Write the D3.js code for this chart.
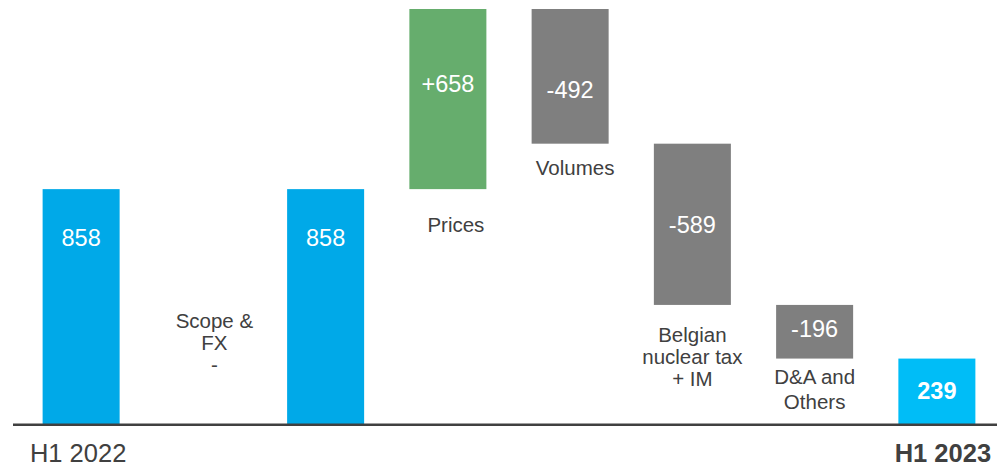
<head>
    <meta charset="utf-8">
    <style> body { margin: 0; background: #fff; } </style>
    <script src="https://d3js.org/d3.v7.min.js"></script>
</head>
<body>
<div id="chart"></div>
<script>

    // data
    var ids = ["h1_2022", "scope", "h1_2022b", "prices", "volumes", "nuclear", "da", "h1_2023"];
    var values = [858, 0, 858, 658, -492, -589, -196, 239];
    var kinds = ["total", "delta", "total", "delta", "delta", "delta", "delta", "total"];
    var valueLabels = ["858", "", "858", "+658", "-492", "-589", "-196", "239"];
    var catLabels = [[], ["Scope &", "FX", "-"], [], ["Prices"], ["Volumes"], ["Belgian", "nuclear tax", "+ IM"], ["D&A and", "Others"], []];
    var axisLabels = ["H1 2022", "", "", "", "", "", "", "H1 2023"];

    var W = 997, H = 466;
    var baseY = 424, topY = 9;

    // layout tweaks (pixels), per column
    var valueDy = [57, 0, 57, 83, 89, 89, 32, 40];
    var catDy = [0, 139, 0, 43, 31, 37, 25, 0];
    var catDx = [0, 11, 0, 8, 5, 0, 0, 0];
    var catLh = [22, 22, 22, 22, 22, 22, 25.5, 22];

    var colors = { total: "#00a9e8", delta_up: "#66ad6d", delta_down: "#7f7f7f", last: "#00bdf7" };
    var textCol = "#404040";
    var font = "'Liberation Sans', Arial, sans-serif";

    // running totals
    var data = [];
    var run = 0;
    ids.forEach(function(id, i) {
        var d = { id: id, i: i, kind: kinds[i], v: values[i] };
        if (d.kind == "total") {
            d.y0 = 0; d.y1 = values[i]; run = values[i];
        } else {
            d.y0 = run; d.y1 = run + values[i]; run = d.y1;
        }
        d.lo = Math.min(d.y0, d.y1);
        d.hi = Math.max(d.y0, d.y1);
        data.push(d);
    });

    var svg = d3.select("#chart").append("svg")
        .attr("width", W)
        .attr("height", H);

    var x = d3.scaleBand()
        .domain(ids)
        .range([20, 998])
        .paddingInner(0.37)
        .paddingOuter(0.185);

    var y = d3.scaleLinear()
        .domain([0, d3.max(data, d => d.hi)])
        .range([baseY, topY]);

    function barColor(d) {
        if (d.i == ids.length - 1) return colors.last;
        if (d.kind == "total") return colors.total;
        return d.v >= 0 ? colors.delta_up : colors.delta_down;
    }

    svg.append("g").selectAll("rect")
        .data(data.filter(d => d.v != 0))
        .join("rect")
        .attr("x", d => x(d.id))
        .attr("width", x.bandwidth())
        .attr("y", d => y(d.hi))
        .attr("height", d => y(d.lo) - y(d.hi))
        .attr("fill", barColor);

    // value labels inside bars
    svg.append("g").selectAll("text")
        .data(data.filter(d => valueLabels[d.i] != ""))
        .join("text")
        .attr("x", d => x(d.id) + x.bandwidth() / 2)
        .attr("y", d => y(d.hi) + valueDy[d.i])
        .attr("text-anchor", "middle")
        .attr("font-family", font)
        .attr("font-size", "23.5px")
        .attr("font-weight", d => d.i == ids.length - 1 ? "bold" : "normal")
        .attr("fill", "#fff")
        .text(d => valueLabels[d.i]);

    // category labels under the bars
    var cats = svg.append("g").selectAll("text")
        .data(data.filter(d => catLabels[d.i].length))
        .join("text")
        .attr("text-anchor", "middle")
        .attr("font-family", font)
        .attr("font-size", "20.5px")
        .attr("fill", textCol)
        .attr("transform", d => "translate(" + (x(d.id) + x.bandwidth() / 2 + catDx[d.i]) + "," + (y(d.lo) + catDy[d.i]) + ")");

    cats.selectAll("tspan")
        .data(d => catLabels[d.i].map((t, k) => ({ t: t, k: k, lh: catLh[d.i] })))
        .join("tspan")
        .attr("x", 0)
        .attr("y", s => s.k * s.lh)
        .text(s => s.t);

    // axis line
    svg.append("line")
        .attr("x1", 13)
        .attr("x2", W)
        .attr("y1", y(0) + 0.8)
        .attr("y2", y(0) + 0.8)
        .attr("stroke", textCol)
        .attr("stroke-width", 2.5);

    svg.append("g").selectAll("text")
        .data(data.filter(d => axisLabels[d.i] != ""))
        .join("text")
        .attr("x", d => x(d.id) + x.bandwidth() / 2 + (d.i == ids.length - 1 ? 6 : -3))
        .attr("y", 462)
        .attr("text-anchor", "middle")
        .attr("font-family", font)
        .attr("font-size", "25.5px")
        .attr("font-weight", d => d.i == ids.length - 1 ? "bold" : "normal")
        .attr("fill", textCol)
        .text(d => axisLabels[d.i]);

</script>
</body>
